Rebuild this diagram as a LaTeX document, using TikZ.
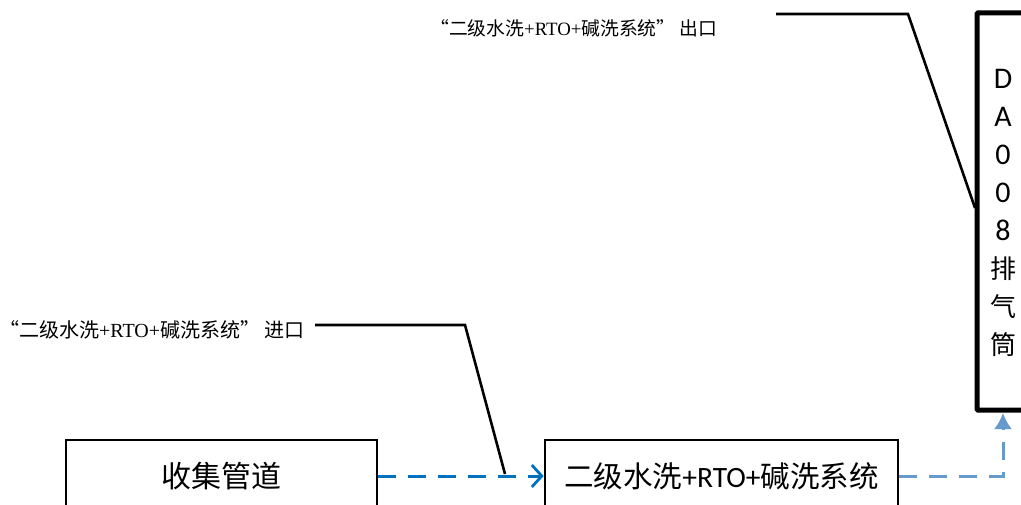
\documentclass[tikz,border=0pt]{standalone}
\usepackage{fontspec}
\setmainfont{Carlito}
\newfontfamily\cjk{Noto Sans CJK SC}
\newfontfamily\lserif{Liberation Serif}
\usetikzlibrary{arrows.meta}
\definecolor{flowblue}{RGB}{0,112,192}
\definecolor{paleblue}{RGB}{102,153,204}
\tikzset{
  box/.style={draw=black, line width=2.6pt, rectangle, inner sep=0pt},
  stack/.style={draw=black, line width=5pt, rectangle, inner sep=0pt, rounded corners=1pt},
  callout/.style={anchor=west, inner sep=0pt},
  leader/.style={draw=black, line width=2.6pt},
  flowA/.style={draw=flowblue, line width=3pt, dash pattern=on 18pt off 12pt, -{Straight Barb[length=10pt,width=22pt,line width=2.8pt]}},
  flowB/.style={draw=paleblue, line width=3pt, dash pattern=on 18pt off 12pt, -{Latex[length=16pt,width=18pt]}, shorten >=3pt}
}
\begin{document}
\begin{tikzpicture}[x=1pt,y=-1pt]
\clip (0,0) rectangle (1021,505);
\fill[white] (0,0) rectangle (1021,505);
% boxes
\node[box, minimum width=311pt, minimum height=72pt] (b1) at (221.5,476)
  {\fontsize{30}{32}\selectfont\cjk 收集管道};
\node[box, minimum width=353pt, minimum height=72pt] (b2) at (721.5,476)
  {\fontsize{29.5}{31}\selectfont{\cjk 二级水洗}+RTO+{\cjk 碱洗系统}};
\node[stack, minimum width=100pt, minimum height=397pt] (b3) at (1027,211.5) {};
\node[inner sep=0pt, align=center, font=\fontsize{30}{37.9}\selectfont] (t3) at (1003,213)
  {D\\A\\0\\0\\8\\{\cjk\fontsize{26}{37.9}\selectfont 排}\\{\cjk\fontsize{26}{37.9}\selectfont 气}\\{\cjk\fontsize{26}{37.9}\selectfont 筒}};
% flows
\coordinate (up) at (1003,410);
\draw[flowA] (b1.east) -- (b2.west);
\draw[flowB] (b2.east) -| (up);
% callouts
\node[callout, font=\fontsize{20}{22}\selectfont] (c1) at (-1,330) {{\cjk “二级水洗}{\lserif +RTO+}{\cjk 碱洗系统” 进口}};
\node[callout, font=\fontsize{18.8}{20}\selectfont] (c2) at (430,28) {{\cjk “二级水洗}{\lserif +RTO+}{\cjk 碱洗系统” 出口}};
\coordinate (k1a) at (315,325);
\coordinate (k1b) at (465,325);
\coordinate (k1c) at (505,474);
\coordinate (k2a) at (776,14);
\coordinate (k2b) at (908,14);
\coordinate (k2c) at (975,208);
\draw[leader] (k1a) -- (k1b) -- (k1c);
\draw[leader] (k2a) -- (k2b) -- (k2c);
\end{tikzpicture}
\end{document}
